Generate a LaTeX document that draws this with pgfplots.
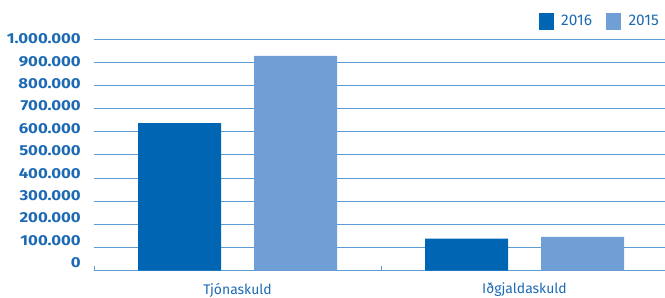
\documentclass[border=0pt]{standalone}
\usepackage{pgfplots}
\pgfplotsset{compat=1.18}
\usepackage{fontspec}
\setmainfont{Fira Sans}
\newfontfamily\ylabfont[FakeStretch=1.16]{Fira Sans}
\definecolor{dk}{HTML}{0066B3}
\definecolor{lt}{HTML}{6F9FD5}
\definecolor{txt}{HTML}{1D6AB4}
\definecolor{grd}{HTML}{5E9BD3}
\begin{document}
\begin{tikzpicture}
\useasboundingbox (0,0) rectangle (665bp,298bp);
\begin{axis}[
  at={(94bp,27.3bp)}, anchor=south west,
  scale only axis, width=574bp, height=231.7bp,
  xmin=-0.5, xmax=1.5, ymin=0, ymax=1000000,
  axis x line*=bottom, axis y line*=left,
  y axis line style={draw=none},
  x axis line style={draw=grd, line width=1.2bp},
  tick align=inside,
  xtick={-0.5,0.5,1.5}, xticklabels={},
  major tick length=5bp,
  xtick style={draw=grd, line width=1bp},
  extra x ticks={0,1},
  extra x tick labels={Tjónaskuld,Iðgjaldaskuld},
  extra x tick style={major tick length=0pt},
  xticklabel style={font=\fontsize{14}{14}\selectfont, text=txt, anchor=north, inner sep=0pt, yshift=-12bp},
  ytick={0,100000,200000,300000,400000,500000,600000,700000,800000,900000,1000000},
  yticklabels={},
  ymajorgrids,
  major grid style={draw=grd, line width=0.9bp},
  ytick style={draw=none},
  scaled y ticks=false,
  extra y ticks={34500,131050,227600,324150,420700,517250,613800,710350,806900,903450,1000000},
  extra y tick labels={0,100.000,200.000,300.000,400.000,500.000,600.000,700.000,800.000,900.000,1.000.000},
  extra y tick style={grid=none, tick style={draw=none}},
  yticklabel style={font=\ylabfont\fontsize{14.5}{14.5}\selectfont\bfseries, text=txt, anchor=east, inner sep=0pt, xshift=-13bp},
  legend columns=2,
  legend style={at={(rel axis cs:1,1)}, anchor=east, xshift=-7bp, yshift=17.5bp,
    draw=none, fill=none, inner sep=0pt,
    font=\fontsize{15.5}{15.5}\selectfont, text=txt,
    /tikz/every even column/.append style={column sep=12bp}},
  legend image code/.code={\fill[#1] (0bp,-8.3bp) rectangle (15bp,8.3bp); \path (20.5bp,0);},
]
\addplot[ybar, bar width=83bp, bar shift=-58bp, fill=dk, draw=none] coordinates {(0,637000) (1,138000)};
\addplot[ybar, bar width=83bp, bar shift=58bp, fill=lt, draw=none] coordinates {(0,927000) (1,146500)};
\legend{2016,2015}
\end{axis}
\end{tikzpicture}
\end{document}
